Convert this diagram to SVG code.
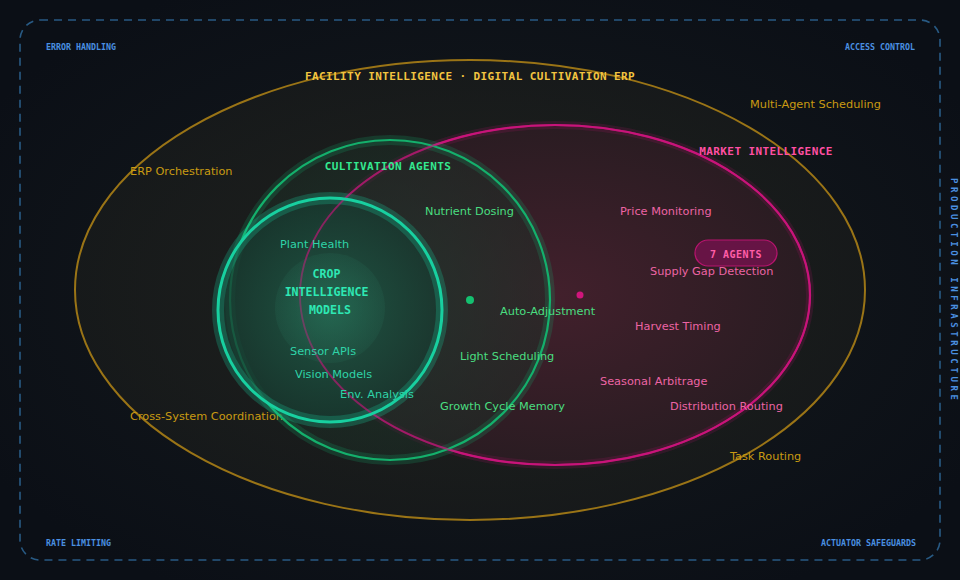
<svg xmlns="http://www.w3.org/2000/svg" width="960" height="580" viewBox="0 0 960 580">
  <defs>
    <radialGradient id="bg" cx="50%" cy="50%" r="60%">
      <stop offset="0" stop-color="#161b1e"/>
      <stop offset="1" stop-color="#0b0f16"/>
    </radialGradient>
    <radialGradient id="outerFill" cx="50%" cy="50%" r="50%">
      <stop offset="0" stop-color="#22241f" stop-opacity="0.9"/>
      <stop offset="1" stop-color="#1a1c1b" stop-opacity="0.7"/>
    </radialGradient>
    <radialGradient id="marketFill" cx="50%" cy="50%" r="50%">
      <stop offset="0" stop-color="#42202c"/>
      <stop offset="1" stop-color="#2a1c22"/>
    </radialGradient>
    <radialGradient id="cultFill" cx="50%" cy="50%" r="50%">
      <stop offset="0" stop-color="#1e3a2e" stop-opacity="0.7"/>
      <stop offset="1" stop-color="#1c2e26" stop-opacity="0.5"/>
    </radialGradient>
    <radialGradient id="cropFill" cx="50%" cy="50%" r="50%">
      <stop offset="0" stop-color="#1f5a47" stop-opacity="0.9"/>
      <stop offset="1" stop-color="#173a30" stop-opacity="0.75"/>
    </radialGradient>
    <radialGradient id="coreFill" cx="50%" cy="50%" r="50%">
      <stop offset="0" stop-color="#2a7a60" stop-opacity="0.45"/>
      <stop offset="1" stop-color="#2a7a60" stop-opacity="0.15"/>
    </radialGradient>
  </defs>
  <style>
    .mono { font-family: "DejaVu Sans Mono", "Liberation Mono", monospace; font-weight: bold; }
    .sans { font-family: "DejaVu Sans", "Noto Sans", sans-serif; font-size: 11.3px; }
    .corner { font-family: "DejaVu Sans Mono", "Liberation Mono", monospace; font-weight: bold; font-size: 8.3px; fill: #4a8fe0; }
    .title { font-size: 11px; letter-spacing: 0.4px; text-anchor: middle; }
    .gold { fill: #c99a12; }
    .green { fill: #4ade80; }
    .teal { fill: #2fd3a8; }
    .pink { fill: #ec64a4; }
  </style>
  <rect width="960" height="580" fill="url(#bg)"/>

  <g id="infrastructure">
    <rect x="20" y="20" width="920" height="540" rx="20" fill="none" stroke="#285a84" stroke-width="1.6" stroke-dasharray="8,6"/>
    <text class="corner" x="46" y="50">ERROR HANDLING</text>
    <text class="corner" x="915" y="50" text-anchor="end">ACCESS CONTROL</text>
    <text class="corner" x="46" y="546">RATE LIMITING</text>
    <text class="corner" x="916" y="546" text-anchor="end">ACTUATOR SAFEGUARDS</text>
    <text class="mono" font-size="9" fill="#4a8fe0" letter-spacing="3.6" transform="translate(951,178) rotate(90)">PRODUCTION INFRASTRUCTURE</text>
  </g>

  <g id="facility">
    <ellipse cx="470" cy="290" rx="395" ry="230" fill="url(#outerFill)" stroke="#9a7416" stroke-width="2"/>
    <text class="mono title" x="470" y="80" fill="#f2c440">FACILITY INTELLIGENCE · DIGITAL CULTIVATION ERP</text>
    <text class="sans gold" x="130" y="175">ERP Orchestration</text>
    <text class="sans gold" x="750" y="108">Multi-Agent Scheduling</text>
    <text class="sans gold" x="130" y="420">Cross-System Coordination</text>
    <text class="sans gold" x="730" y="460">Task Routing</text>
  </g>

  <g id="market">
    <ellipse cx="555" cy="295" rx="255" ry="170" fill="url(#marketFill)" stroke="#c8147a" stroke-opacity="0.15" stroke-width="8"/>
    <ellipse cx="555" cy="295" rx="255" ry="170" fill="none" stroke="#c8147a" stroke-width="2.2"/>
  </g>

  <g id="cultivation">
    <circle cx="390" cy="300" r="160" fill="url(#cultFill)" stroke="#14b06c" stroke-opacity="0.2" stroke-width="10"/>
    <circle cx="390" cy="300" r="160" fill="none" stroke="#14b06c" stroke-width="2.2"/>
  </g>

  <g id="crop">
    <circle cx="330" cy="310" r="112" fill="url(#cropFill)" stroke="#18d0a0" stroke-opacity="0.25" stroke-width="12"/>
    <ellipse cx="555" cy="295" rx="255" ry="170" fill="none" stroke="#c8147a" stroke-opacity="0.6" stroke-width="1.8"/>
    <circle cx="330" cy="310" r="112" fill="none" stroke="#18d0a0" stroke-width="3"/>
    <circle cx="330" cy="308" r="55" fill="url(#coreFill)"/>
    <text class="mono" font-size="11.6" fill="#2ee8b4" text-anchor="middle">
      <tspan x="330" y="278">CROP</tspan>
      <tspan x="330" y="296">INTELLIGENCE</tspan>
      <tspan x="330" y="314">MODELS</tspan>
    </text>
    <text class="sans teal" x="280" y="248">Plant Health</text>
    <text class="sans teal" x="290" y="355">Sensor APIs</text>
    <text class="sans teal" x="295" y="378">Vision Models</text>
    <text class="sans teal" x="340" y="398">Env. Analysis</text>
  </g>

  <g id="cultivation-labels">
    <text class="mono title" x="388" y="170" fill="#34e890">CULTIVATION AGENTS</text>
    <circle cx="470" cy="300" r="4" fill="#14c070"/>
    <text class="sans green" x="425" y="215">Nutrient Dosing</text>
    <text class="sans green" x="500" y="315">Auto-Adjustment</text>
    <text class="sans green" x="460" y="360">Light Scheduling</text>
    <text class="sans green" x="440" y="410">Growth Cycle Memory</text>
  </g>

  <g id="market-labels">
    <text class="mono title" x="766" y="155" fill="#ff4fa3">MARKET INTELLIGENCE</text>
    <circle cx="580" cy="295" r="3.5" fill="#d0157c"/>
    <g id="agents-badge">
      <rect x="695" y="240" width="82" height="26" rx="13" fill="#7a1250" fill-opacity="0.75" stroke="#b8146e" stroke-width="1.2"/>
      <text class="mono" x="736" y="258" font-size="10" letter-spacing="0.5" fill="#ff5ea8" text-anchor="middle">7 AGENTS</text>
    </g>
    <text class="sans pink" x="620" y="215">Price Monitoring</text>
    <text class="sans pink" x="650" y="275">Supply Gap Detection</text>
    <text class="sans pink" x="635" y="330">Harvest Timing</text>
    <text class="sans pink" x="600" y="385">Seasonal Arbitrage</text>
    <text class="sans pink" x="670" y="410">Distribution Routing</text>
  </g>
</svg>
